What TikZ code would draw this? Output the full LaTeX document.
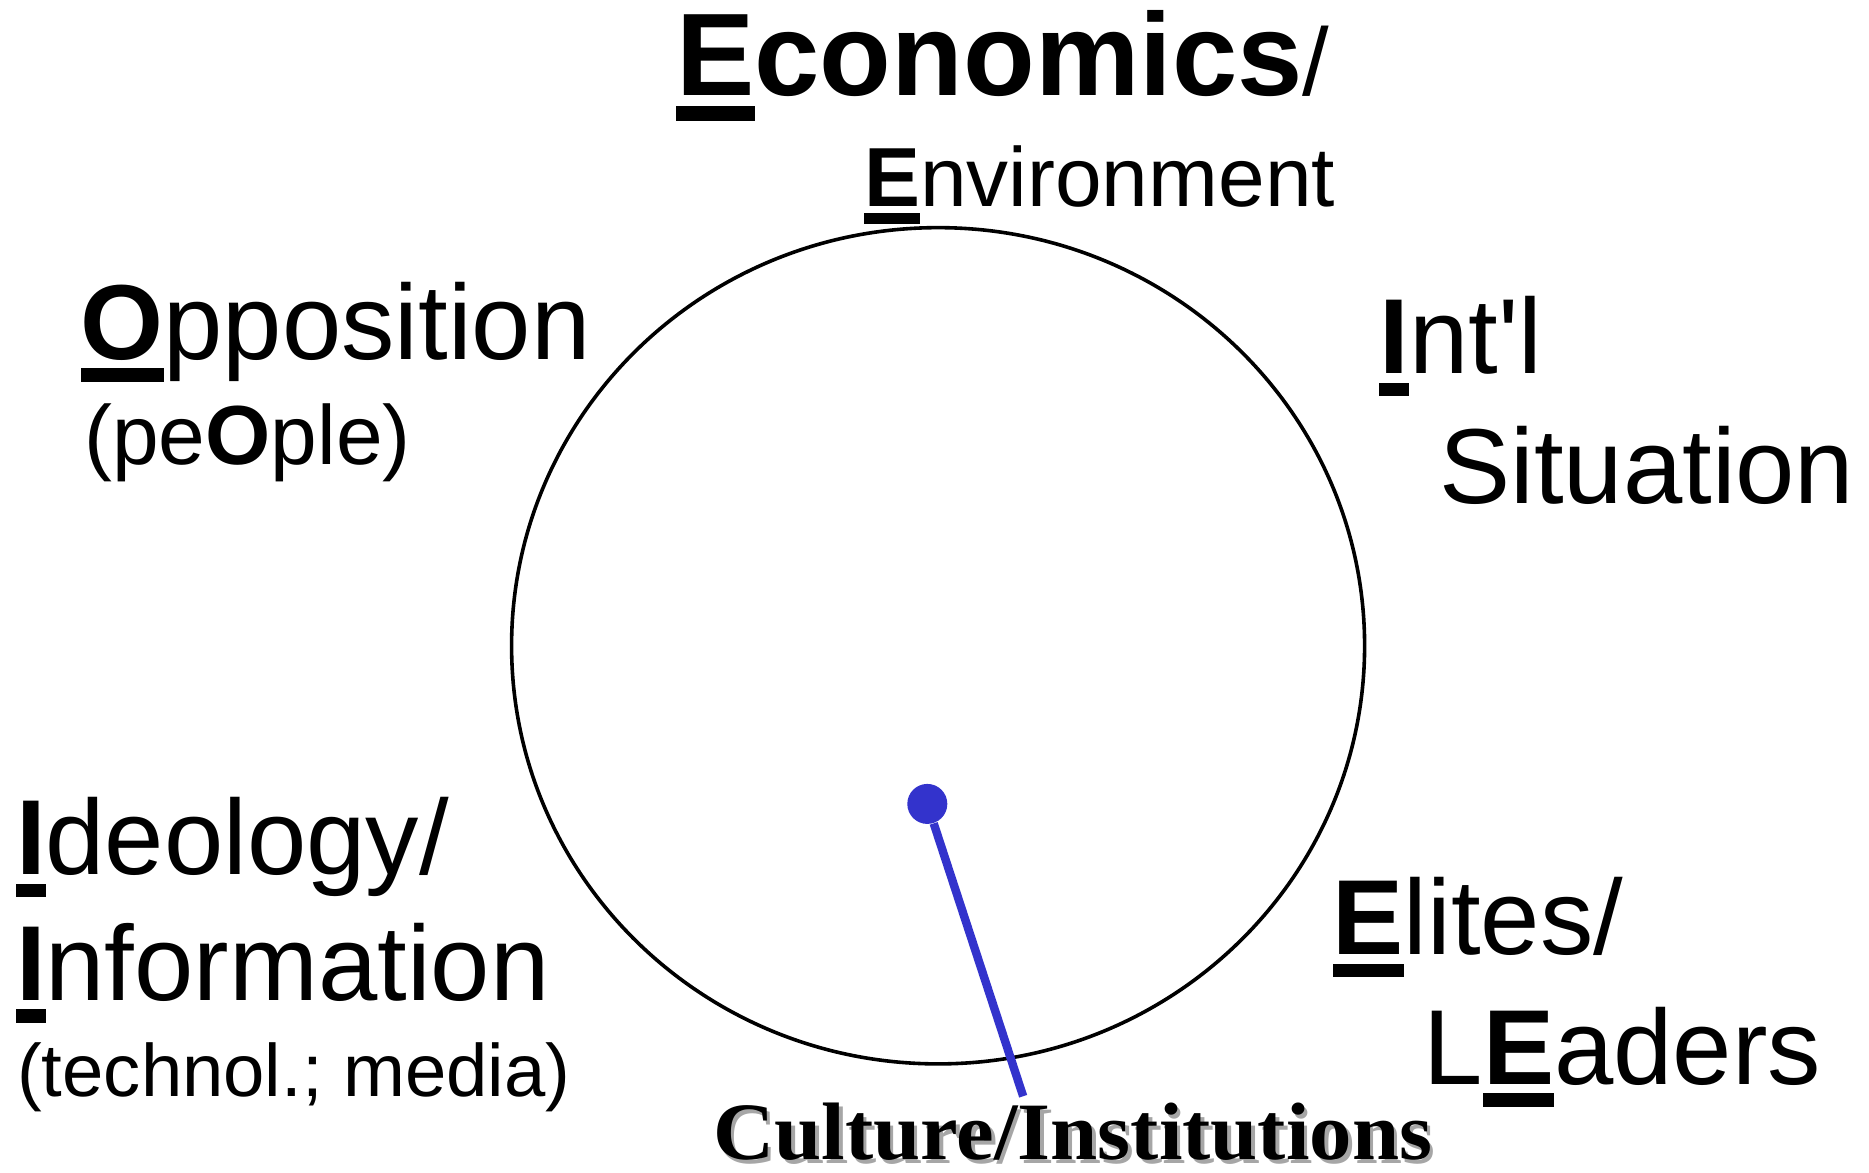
\documentclass[tikz,border=0pt]{standalone}
\usepackage{fontspec}
\setmainfont{Liberation Sans}[Ligatures=TeXOff]
\newfontfamily\timesfont{Liberation Serif}[FakeStretch=1.04]
\usepackage{tikz}
\usetikzlibrary{shapes,positioning}
\definecolor{pinblue}{RGB}{51,51,204}
\newsavebox\keybox
\newcommand{\keyl}[1]{\sbox\keybox{\bfseries #1}\rlap{\rule[-0.21em]{\wd\keybox}{0.125em}}\usebox\keybox}
\tikzstyle{word1} = [anchor=base west, inner sep=0pt,
                     font=\fontsize{49pt}{54pt}\selectfont\bfseries]
\tikzstyle{word2} = [anchor=base west, inner sep=0pt,
                     font=\fontsize{44.5pt}{50pt}\selectfont]
\tikzstyle{word3} = [anchor=base west, inner sep=0pt,
                     font=\fontsize{35pt}{40pt}\selectfont]
\tikzstyle{word4} = [anchor=base west, inner sep=0pt,
                     font=\fontsize{31pt}{36pt}\selectfont]

\begin{document}
\begin{tikzpicture}[x=0.5pt, y=-0.5pt,
ring/.style={draw=black, line width=1.5pt},
pin/.style={circle, fill=pinblue, inner sep=0pt, minimum size=16.7pt},
stick/.style={draw=pinblue, line width=3.5pt},
culture/.style={anchor=base west, inner sep=0pt, font=\timesfont\fontsize{34pt}{40pt}\selectfont\bfseries}]
\useasboundingbox (0,0) rectangle (1560,979.05);

% circle
\draw[ring] (783,539) ellipse [x radius=178pt, y radius=174.5pt];

% top
\node[word1] (econ) at (564,80) {\keyl{E}conomics{\mdseries\fontsize{40pt}{44pt}\selectfont/}};
\node[word3] (envi) at (721,172) {\keyl{E}nvironment};

% left
\node[word2] (oppo) at (67,300) {\keyl{O}pposition};
\node[word3] (peop) at (70,388) {(pe\textbf{O}ple)};
\node[word2] (ideo) at (13,730) {\keyl{I}deology/};
\node[word2] (info) at (13,835) {\keyl{I}nformation};
\node[word4] (tech) at (14,915) {(technol.; media)};

% right
\node[word2] (intl) at (1151,312) {\keyl{I}nt'l};
\node[word2] (situ) at (1201,420) {Situation};
\node[word2] (elit) at (1112,797) {\keyl{E}lites/};
\node[word2] (lead) at (1188,905) {L\keyl{E}aders};

% bottom
\node[pin] (dot) at (774,671) {};
\coordinate (tail) at (854,915);
\draw[stick] (dot) -- (tail);
\node[culture, text=black!35] (cultshadow) at (598,971) {Culture/Institutions};
\node[culture] (cult) at (595,968) {Culture/Institutions};
\end{tikzpicture}
\end{document}
